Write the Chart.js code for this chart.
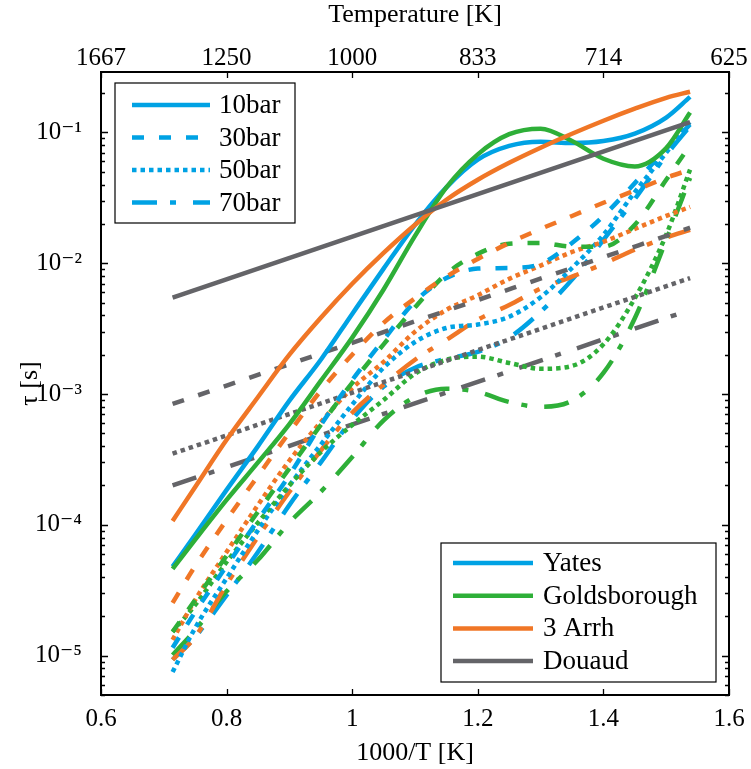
<!DOCTYPE html>
<html>
<head>
<meta charset="utf-8">
<script src="https://cdn.jsdelivr.net/npm/chart.js@4.4.0/dist/chart.umd.min.js"></script>
<style>
  html, body { margin: 0; padding: 0; background: #fff; }
  canvas { display: block; }
</style>
</head>
<body>
<canvas id="tau" width="751" height="769"></canvas>
<script>
// 1000/T grid the curves were read at, and the two ends of the straight Douaud lines
const invT = [0.714, 0.75, 0.80, 0.85, 0.90, 0.95, 1.00, 1.05, 1.10, 1.15, 1.20, 1.25, 1.30, 1.35, 1.40, 1.45, 1.50, 1.538];
const invTEnds = [0.714, 1.538];

// tick labels
const xTicks = [0.6, 0.8, 1.0, 1.2, 1.4, 1.6];
const xTickLabels = ['0.6', '0.8', '1', '1.2', '1.4', '1.6'];
const tempLabels = ['1667', '1250', '1000', '833', '714', '625'];

// ignition delay tau [s] - Yates
const yates10 = [4.8e-5, 8.4e-5, 1.85e-4, 4.0e-4, 8.9e-4, 1.83e-3, 4.1e-3, 9.1e-3, 1.97e-2, 3.8e-2, 6.2e-2, 7.9e-2, 8.5e-2, 8.3e-2, 8.6e-2, 9.8e-2, 0.13, 0.187];
const yates30 = [1.15e-5, 2.16e-5, 4.85e-5, 1.09e-4, 2.4e-4, 5.8e-4, 1.28e-3, 2.6e-3, 5.1e-3, 7.7e-3, 9.1e-3, 9.2e-3, 9.9e-3, 1.43e-2, 2.3e-2, 4.1e-2, 7.5e-2, 0.115];
const yates50 = [7.5e-6, 1.63e-5, 3.9e-5, 9.1e-5, 2.0e-4, 4.1e-4, 8.3e-4, 1.59e-3, 2.5e-3, 3.2e-3, 3.4e-3, 3.9e-3, 5.5e-3, 9.2e-3, 1.65e-2, 3.5e-2, 7.0e-2, 0.121];
const yates70 = [9.3e-6, 1.39e-5, 2.9e-5, 6.2e-5, 1.42e-4, 3.0e-4, 6.4e-4, 1.14e-3, 1.59e-3, 1.86e-3, 2.1e-3, 2.7e-3, 4.25e-3, 7.5e-3, 1.51e-2, 3.1e-2, 6.7e-2, 0.112];

// Goldsborough
const gold10 = [4.6e-5, 7.7e-5, 1.55e-4, 3.0e-4, 5.9e-4, 1.26e-3, 2.7e-3, 6.3e-3, 1.62e-2, 3.8e-2, 6.8e-2, 9.7e-2, 0.107, 8.6e-2, 6.3e-2, 5.5e-2, 7.6e-2, 0.142];
const gold30 = [1.52e-5, 2.67e-5, 5.8e-5, 1.26e-4, 2.7e-4, 5.8e-4, 1.22e-3, 2.4e-3, 4.6e-3, 8.3e-3, 1.18e-2, 1.41e-2, 1.43e-2, 1.34e-2, 1.34e-2, 1.97e-2, 4.35e-2, 8.0e-2];
const gold50 = [1.52e-5, 2.44e-5, 5.2e-5, 1.04e-4, 2.0e-4, 3.6e-4, 5.8e-4, 9.0e-4, 1.43e-3, 1.83e-3, 1.93e-3, 1.73e-3, 1.56e-3, 1.64e-3, 2.4e-3, 5.4e-3, 1.65e-2, 5.2e-2];
const gold70 = [1.01e-5, 1.57e-5, 3.1e-5, 5.4e-5, 1.04e-4, 1.79e-4, 3.3e-4, 6.3e-4, 9.5e-4, 1.10e-3, 1.04e-3, 8.7e-4, 8.0e-4, 8.9e-4, 1.45e-3, 3.8e-3, 1.51e-2, 4.5e-2];

// 3 Arrh
const arrh10 = [1.07e-4, 1.95e-4, 4.47e-4, 9.5e-4, 2.0e-3, 3.83e-3, 6.97e-3, 1.2e-2, 1.97e-2, 3.06e-2, 4.35e-2, 5.86e-2, 7.64e-2, 9.77e-2, 0.123, 0.152, 0.184, 0.205];
const arrh30 = [2.53e-5, 4.85e-5, 1.09e-4, 2.37e-4, 5.1e-4, 1.06e-3, 2.0e-3, 3.5e-3, 5.4e-3, 7.9e-3, 1.08e-2, 1.43e-2, 1.83e-2, 2.3e-2, 2.9e-2, 3.6e-2, 4.5e-2, 5.2e-2];
const arrh50 = [1.32e-5, 2.67e-5, 6.2e-5, 1.42e-4, 3.1e-4, 6.1e-4, 1.11e-3, 1.76e-3, 3.0e-3, 4.4e-3, 5.7e-3, 7.6e-3, 9.6e-3, 1.22e-2, 1.46e-2, 1.83e-2, 2.3e-2, 2.7e-2];
const arrh70 = [9.3e-6, 1.39e-5, 3.5e-5, 8.1e-5, 1.79e-4, 3.7e-4, 7.2e-4, 1.18e-3, 1.83e-3, 2.6e-3, 3.7e-3, 4.8e-3, 6.4e-3, 7.9e-3, 9.9e-3, 1.27e-2, 1.57e-2, 1.8e-2];

// Douaud (straight lines, end points only)
const douaud10 = [5.45e-3, 0.12];
const douaud30 = [8.4e-4, 1.87e-2];
const douaud50 = [3.5e-4, 7.7e-3];
const douaud70 = [2.0e-4, 4.4e-3];

const COLORS = {
  yates: 'rgb(0,162,228)',
  gold: 'rgb(46,175,56)',
  arrh: 'rgb(240,118,38)',
  douaud: 'rgb(100,100,104)'
};
const DASH = {
  '10bar': [],
  '30bar': [12, 15],
  '50bar': [4.5, 4],
  '70bar': [25, 13, 6, 17]
};
const FONT = "'Liberation Serif', 'DejaVu Serif', serif";

const series = (label, xs, ys, color, dash) => ({
  label: label,
  data: xs.map((x, i) => ({ x: x, y: ys[i] })),
  borderColor: color,
  borderDash: dash,
  borderWidth: 4.5,
  borderCapStyle: 'butt',
  pointRadius: 0,
  fill: false,
  cubicInterpolationMode: 'monotone'
});

// first dataset is drawn on top
const datasets = [
  series('Douaud 10bar', invTEnds, douaud10, COLORS.douaud, DASH['10bar']),
  series('3 Arrh 10bar', invT, arrh10, COLORS.arrh, DASH['10bar']),
  series('Goldsborough 10bar', invT, gold10, COLORS.gold, DASH['10bar']),
  series('Yates 10bar', invT, yates10, COLORS.yates, DASH['10bar']),
  series('Douaud 30bar', invTEnds, douaud30, COLORS.douaud, DASH['30bar']),
  series('3 Arrh 30bar', invT, arrh30, COLORS.arrh, DASH['30bar']),
  series('Goldsborough 30bar', invT, gold30, COLORS.gold, DASH['30bar']),
  series('Yates 30bar', invT, yates30, COLORS.yates, DASH['30bar']),
  series('Douaud 50bar', invTEnds, douaud50, COLORS.douaud, DASH['50bar']),
  series('3 Arrh 50bar', invT, arrh50, COLORS.arrh, DASH['50bar']),
  series('Goldsborough 50bar', invT, gold50, COLORS.gold, DASH['50bar']),
  series('Yates 50bar', invT, yates50, COLORS.yates, DASH['50bar']),
  series('Douaud 70bar', invTEnds, douaud70, COLORS.douaud, DASH['70bar']),
  series('3 Arrh 70bar', invT, arrh70, COLORS.arrh, DASH['70bar']),
  series('Goldsborough 70bar', invT, gold70, COLORS.gold, DASH['70bar']),
  series('Yates 70bar', invT, yates70, COLORS.yates, DASH['70bar'])
];

const isPow10 = v => Math.abs(Math.log10(v) - Math.round(Math.log10(v))) < 1e-9;
const SUP = { '-': '\u207B', '0': '\u2070', '1': '\u00B9', '2': '\u00B2', '3': '\u00B3', '4': '\u2074', '5': '\u2075', '6': '\u2076', '7': '\u2077', '8': '\u2078', '9': '\u2079' };
const sup = n => String(n).split('').map(c => SUP[c]).join('');

// log ticks 1..9 x 10^n inside the range
const logTicks = (min, max) => {
  const out = [];
  for (let e = Math.floor(Math.log10(min)); e <= Math.ceil(Math.log10(max)); e++) {
    for (let k = 1; k <= 9; k++) {
      const v = k * Math.pow(10, e);
      if (v >= min * 0.9999 && v <= max * 1.0001) out.push({ value: v });
    }
  }
  return out;
};

const drawLegend = (ctx, box, rows) => {
  ctx.save();
  ctx.fillStyle = '#fff';
  ctx.fillRect(box.x, box.y, box.w, box.h);
  ctx.lineWidth = 1.2;
  ctx.strokeStyle = '#000';
  ctx.setLineDash([]);
  ctx.strokeRect(box.x, box.y, box.w, box.h);
  ctx.font = '27px ' + FONT;
  ctx.textBaseline = 'middle';
  ctx.textAlign = 'left';
  rows.forEach((r, i) => {
    const y = box.y + box.first + i * box.step;
    ctx.strokeStyle = r.color;
    ctx.lineWidth = 4.5;
    ctx.lineCap = 'butt';
    ctx.setLineDash(r.dash);
    ctx.beginPath();
    ctx.moveTo(box.x + box.lx0, y);
    ctx.lineTo(box.x + box.lx1, y);
    ctx.stroke();
    ctx.setLineDash([]);
    ctx.fillStyle = '#000';
    ctx.fillText(r.text, box.x + box.tx, y + 1);
  });
  ctx.restore();
};

const framePlugin = {
  id: 'frame',
  afterDraw(chart) {
    const { ctx, chartArea: a, scales } = chart;
    ctx.save();
    ctx.strokeStyle = '#000';
    ctx.lineWidth = 1.3;
    ctx.beginPath();
    scales.y.ticks.forEach(t => {
      const p = Math.round(scales.y.getPixelForValue(t.value)) + 0.5;
      const len = isPow10(t.value) ? 7 : 4;
      ctx.moveTo(a.left, p); ctx.lineTo(a.left + len, p);
      ctx.moveTo(a.right, p); ctx.lineTo(a.right - len, p);
    });
    scales.x.ticks.forEach(t => {
      const p = Math.round(scales.x.getPixelForValue(t.value)) + 0.5;
      ctx.moveTo(p, a.bottom); ctx.lineTo(p, a.bottom - 6);
    });
    scales.x2.ticks.forEach(t => {
      const p = Math.round(scales.x2.getPixelForValue(t.value)) + 0.5;
      ctx.moveTo(p, a.top); ctx.lineTo(p, a.top + 6);
    });
    ctx.stroke();
    ctx.lineWidth = 2;
    ctx.strokeRect(a.left, a.top, a.right - a.left, a.bottom - a.top);
    ctx.restore();

    drawLegend(ctx, { x: a.left + 14, y: a.top + 11, w: 180, h: 140, first: 22, step: 32.5, lx0: 17, lx1: 95, tx: 104 }, [
      { text: '10bar', color: COLORS.yates, dash: DASH['10bar'] },
      { text: '30bar', color: COLORS.yates, dash: DASH['30bar'] },
      { text: '50bar', color: COLORS.yates, dash: DASH['50bar'] },
      { text: '70bar', color: COLORS.yates, dash: DASH['70bar'] }
    ]);
    drawLegend(ctx, { x: a.right - 288, y: a.bottom - 152, w: 275, h: 139, first: 20, step: 32.7, lx0: 12, lx1: 92, tx: 102 }, [
      { text: 'Yates', color: COLORS.yates, dash: [] },
      { text: 'Goldsborough', color: COLORS.gold, dash: [] },
      { text: '3 Arrh', color: COLORS.arrh, dash: [] },
      { text: 'Douaud', color: COLORS.douaud, dash: [] }
    ]);
  }
};

const tickFont = { family: FONT, size: 25 };
const titleFont = { family: FONT, size: 26 };

new Chart(document.getElementById('tau').getContext('2d'), {
  type: 'line',
  data: { datasets: datasets },
  options: {
    responsive: false,
    animation: false,
    devicePixelRatio: 1,
    layout: { padding: { left: 0, right: 22, top: 0, bottom: 0 } },
    plugins: {
      legend: { display: false },
      tooltip: { enabled: false }
    },
    scales: {
      x: {
        type: 'linear',
        position: 'bottom',
        min: 0.6,
        max: 1.6,
        afterBuildTicks: s => { s.ticks = xTicks.map(v => ({ value: v })); },
        afterFit: s => { s.height = 74; },
        grid: { display: false },
        border: { display: false },
        ticks: {
          font: tickFont,
          color: '#000',
          padding: 1,
          maxRotation: 0,
          autoSkip: false,
          callback: (v, i) => xTickLabels[i]
        },
        title: { display: true, text: '1000/T [K]', font: titleFont, color: '#000', padding: { top: 11, bottom: 0 } }
      },
      x2: {
        type: 'linear',
        position: 'top',
        min: 0.6,
        max: 1.6,
        afterBuildTicks: s => { s.ticks = xTicks.map(v => ({ value: v })); },
        afterFit: s => { s.height = 72; },
        grid: { display: false },
        border: { display: false },
        ticks: {
          font: tickFont,
          color: '#000',
          padding: -9,
          maxRotation: 0,
          autoSkip: false,
          callback: (v, i) => tempLabels[i]
        },
        title: { display: true, text: 'Temperature [K]', font: titleFont, color: '#000', padding: { top: 0, bottom: 0 } }
      },
      y: {
        type: 'logarithmic',
        position: 'left',
        min: 5e-6,
        max: 0.29,
        afterBuildTicks: s => { s.ticks = logTicks(5e-6, 0.29); },
        afterFit: s => { s.width = 101; },
        grid: { display: false },
        border: { display: false },
        ticks: {
          font: tickFont,
          color: '#000',
          padding: 11,
          autoSkip: false,
          callback: v => isPow10(v) ? '10' + sup(Math.round(Math.log10(v))) : ''
        },
        title: { display: true, text: '\u03C4 [s]', font: titleFont, color: '#000', padding: { top: 15, bottom: 0 } }
      }
    }
  },
  plugins: [framePlugin]
});
</script>
</body>
</html>
